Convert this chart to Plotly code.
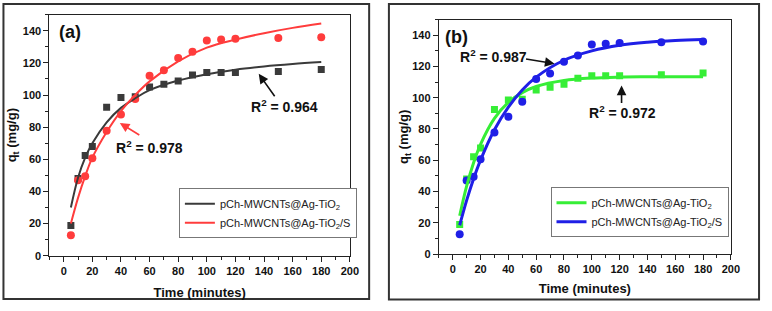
import plotly.graph_objects as go

# ---------------- data ----------------
t_exp = [5, 10, 15, 20, 30, 40, 50, 60, 70, 80, 90, 100, 110, 120, 150, 180]
q_tio2 = [18.8, 48, 62.3, 67.9, 92.4, 98.5, 99, 105, 106.7, 108.7, 112.4, 114, 114, 114, 114.7, 115.9]
q_tio2_s = [12.7, 47, 49.5, 60.7, 77.7, 87.9, 97.5, 112, 115.5, 123, 127, 134, 134.5, 135, 135.5, 136]

t_fit = [5, 10, 15, 20, 30, 40, 50, 60, 80, 100, 120, 140, 160, 180]
# panel (a) fitted curves
fit_a_tio2 = [30, 48.5, 61, 70, 83, 92, 98, 103, 109, 113, 115.8, 117.8, 119.3, 120.5]
fit_a_tio2_s = [20, 36, 49.5, 61, 77, 90, 100, 108.5, 121, 129.5, 134.5, 138.5, 141.8, 144.5]
# panel (b) fitted curves
fit_b_tio2 = [24.5, 43.4, 58.4, 70.2, 86.8, 97, 103.3, 107.2, 111, 112.6, 113.2, 113.4, 113.5, 113.5]
fit_b_tio2_s = [18.4, 34.3, 48.2, 60.1, 79.5, 94, 105, 113.2, 124, 130, 133.6, 135.5, 136.6, 137.2]

name1 = "pCh-MWCNTs@Ag-TiO<sub>2</sub>"
name2 = "pCh-MWCNTs@Ag-TiO<sub>2</sub>/S"

x_ticks = list(range(0, 201, 20))
y_ticks = list(range(0, 141, 20))

BLACK = "#3a3a3a"
RED = "#ff3c3c"
GREEN = "#36ee36"
BLUE = "#1f1fe6"
FONT = "Liberation Sans, Arial, sans-serif"

W, H = 772, 311


def px(x):
    return x / W


def py(y):
    return 1 - y / H


fig = go.Figure()

# ---------------- panel (a) ----------------
fig.add_trace(go.Scatter(x=t_exp, y=q_tio2, mode="markers", showlegend=False,
                         marker=dict(symbol="square", size=7, color=BLACK), xaxis="x", yaxis="y"))
fig.add_trace(go.Scatter(x=t_exp, y=q_tio2_s, mode="markers", showlegend=False,
                         marker=dict(symbol="circle", size=8, color=RED), xaxis="x", yaxis="y"))
fig.add_trace(go.Scatter(x=t_fit, y=fit_a_tio2, mode="lines", name=name1, legend="legend",
                         line=dict(color=BLACK, width=2, shape="spline"), xaxis="x", yaxis="y"))
fig.add_trace(go.Scatter(x=t_fit, y=fit_a_tio2_s, mode="lines", name=name2, legend="legend",
                         line=dict(color=RED, width=2, shape="spline"), xaxis="x", yaxis="y"))

# ---------------- panel (b) ----------------
fig.add_trace(go.Scatter(x=t_exp, y=q_tio2, mode="markers", showlegend=False,
                         marker=dict(symbol="square", size=7, color=GREEN), xaxis="x2", yaxis="y2"))
fig.add_trace(go.Scatter(x=t_exp, y=q_tio2_s, mode="markers", showlegend=False,
                         marker=dict(symbol="circle", size=8, color=BLUE), xaxis="x2", yaxis="y2"))
fig.add_trace(go.Scatter(x=t_fit, y=fit_b_tio2, mode="lines", name=name1, legend="legend2",
                         line=dict(color=GREEN, width=3, shape="spline"), xaxis="x2", yaxis="y2"))
fig.add_trace(go.Scatter(x=t_fit, y=fit_b_tio2_s, mode="lines", name=name2, legend="legend2",
                         line=dict(color=BLUE, width=3, shape="spline"), xaxis="x2", yaxis="y2"))

axis_common = dict(
    showline=True, linecolor="#222", linewidth=1, mirror=True,
    ticks="outside", ticklen=5, tickwidth=1, tickcolor="#222",
    showgrid=False, zeroline=False,
    tickfont=dict(family=FONT, size=11, color="#111", weight="bold"),
    minor=dict(ticks="outside", ticklen=3, tickwidth=1, tickcolor="#222", dtick=10, showgrid=False),
)
title_font = dict(family=FONT, size=13, color="#111", weight="bold")


def xaxis_cfg(standoff):
    return dict(axis_common, range=[-10, 200], tickvals=x_ticks,
                title=dict(text="Time (minutes)", standoff=standoff, font=title_font))


def yaxis_cfg(standoff):
    return dict(axis_common, range=[0, 150], tickvals=y_ticks,
                title=dict(text="q<sub>t</sub> (mg/g)", standoff=standoff, font=title_font))


fig.update_layout(
    width=W, height=H,
    margin=dict(l=0, r=0, t=0, b=0),
    paper_bgcolor="white", plot_bgcolor="white",
    xaxis=dict(xaxis_cfg(12), domain=[px(50), px(354)], anchor="y"),
    yaxis=dict(yaxis_cfg(3), domain=[py(260.7), py(15)], anchor="x"),
    xaxis2=dict(xaxis_cfg(9), domain=[px(444), px(739.5)], anchor="y2"),
    yaxis2=dict(yaxis_cfg(0), domain=[py(259), py(20)], anchor="x2"),
    legend=dict(x=px(181), y=py(192), xanchor="left", yanchor="top",
                bordercolor="#777", borderwidth=1, bgcolor="white",
                font=dict(family=FONT, size=11, color="#222"), tracegroupgap=0),
    legend2=dict(x=px(557), y=py(191), xanchor="left", yanchor="top",
                 bordercolor="#777", borderwidth=1, bgcolor="white",
                 font=dict(family=FONT, size=11, color="#222"), tracegroupgap=0),
    shapes=[
        dict(type="rect", xref="paper", yref="paper", x0=px(3.5), x1=px(373.5), y0=py(305), y1=py(4),
             line=dict(color="#333", width=2)),
        dict(type="rect", xref="paper", yref="paper", x0=px(393.5), x1=px(768), y0=py(305.5), y1=py(4),
             line=dict(color="#333", width=2)),
    ],
)

bold14 = dict(family=FONT, size=14, color="#111", weight="bold")
anns = [
    # panel labels
    dict(text="(a)", x=-4.5, y=139, xref="x", yref="y", showarrow=False, xanchor="left",
         font=dict(family=FONT, size=18, color="#111", weight="bold")),
    dict(text="(b)", x=-7, y=139, xref="x2", yref="y2", showarrow=False, xanchor="left",
         font=dict(family=FONT, size=18, color="#111", weight="bold")),
    # R2 labels
    dict(text="R<sup>2</sup> = 0.978", x=59.9, y=67.9, xref="x", yref="y", showarrow=False, font=bold14),
    dict(text="R<sup>2</sup> = 0.964", x=154.4, y=93, xref="x", yref="y", showarrow=False, font=bold14),
    dict(text="R<sup>2</sup> = 0.987", x=29.2, y=126.5, xref="x2", yref="y2", showarrow=False, font=bold14),
    dict(text="R<sup>2</sup> = 0.972", x=122.3, y=91, xref="x2", yref="y2", showarrow=False, font=bold14),
    # arrows
    dict(text="", x=39.2, y=82.6, xref="x", yref="y", ax=21, ay=13, showarrow=True,
         arrowhead=2, arrowsize=1.2, arrowwidth=1.6, arrowcolor=RED),
    dict(text="", x=136.3, y=113.2, xref="x", yref="y", ax=17, ay=24, showarrow=True,
         arrowhead=2, arrowsize=1.2, arrowwidth=1.6, arrowcolor="#111"),
    dict(text="", x=73.2, y=121.8, xref="x2", yref="y2", ax=-30, ay=-5, showarrow=True,
         arrowhead=2, arrowsize=1.2, arrowwidth=1.6, arrowcolor="#111"),
    dict(text="", x=121.4, y=107.8, xref="x2", yref="y2", ax=0, ay=19, showarrow=True,
         arrowhead=2, arrowsize=1.2, arrowwidth=1.6, arrowcolor="#111"),
]
fig.update_layout(annotations=anns)

fig.write_html("out.html")
